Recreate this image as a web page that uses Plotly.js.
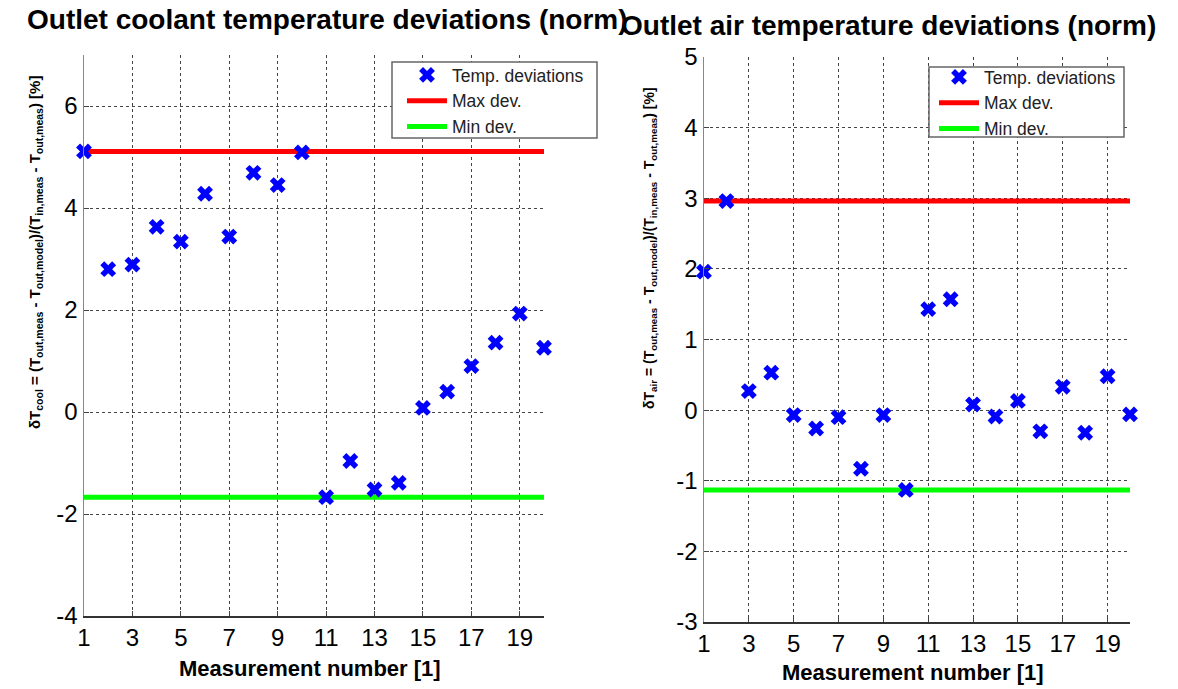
<!DOCTYPE html>
<html>
<head>
<meta charset="utf-8">
<script src="https://cdn.plot.ly/plotly-3.0.1.min.js"></script>
<style>html,body{margin:0;padding:0;background:#fff;}#chart{width:1178px;height:689px;}</style>
</head>
<body>
<div id="chart"></div>
<script>
// Measurement numbers
const measurement = [1,2,3,4,5,6,7,8,9,10,11,12,13,14,15,16,17,18,19,20];
// Outlet coolant temperature deviations [%]
const coolantDev = [5.11,2.80,2.89,3.63,3.34,4.28,3.44,4.69,4.45,5.09,-1.67,-0.96,-1.52,-1.39,0.08,0.40,0.90,1.36,1.93,1.26];
// Outlet air temperature deviations [%]
const airDev = [1.96,2.96,0.27,0.53,-0.07,-0.26,-0.10,-0.83,-0.07,-1.13,1.43,1.57,0.08,-0.09,0.13,-0.30,0.33,-0.32,0.48,-0.06];
const xTickVals = [1,3,5,7,9,11,13,15,17,19];
const coolYTicks = [-4,-2,0,2,4,6];
const airYTicks = [-3,-2,-1,0,1,2,3,4,5];
const legendNames = ["Temp. deviations","Max dev.","Min dev."];

const FONT = "Arial, 'Liberation Sans', sans-serif";
const xEnds = [measurement[0], measurement[measurement.length-1]];

function traces(vals, xa, ya, leg) {
  const mx = Math.max(...vals), mn = Math.min(...vals);
  return [
    {x: measurement, y: vals, xaxis: xa, yaxis: ya, mode: 'markers', name: legendNames[0], legend: leg,
     marker: {symbol: 'x', color: '#0000ff', size: 14, line: {width: 0}}, cliponaxis: false},
    {x: xEnds, y: [mx, mx], xaxis: xa, yaxis: ya, mode: 'lines', name: legendNames[1], legend: leg,
     line: {color: '#ff0000', width: 5}, cliponaxis: false},
    {x: xEnds, y: [mn, mn], xaxis: xa, yaxis: ya, mode: 'lines', name: legendNames[2], legend: leg,
     line: {color: '#00ff00', width: 5}, cliponaxis: false}
  ];
}

const data = [...traces(coolantDev, 'x', 'y', 'legend'), ...traces(airDev, 'x2', 'y2', 'legend2')];
// markers drawn on top of the lines
const ordered = [data[1], data[2], data[0], data[4], data[5], data[3]];
ordered.forEach(t => { t.legendrank = t.mode === 'markers' ? 1 : (t.name === legendNames[1] ? 2 : 3); });

const W = 1178, H = 689;
const px = v => v / W, py = v => (H - v) / H;

const gridCommon = {
  showgrid: true, gridcolor: '#444', griddash: '3px,3px', gridwidth: 1,
  zeroline: false, showline: true, linewidth: 1.5,
  ticks: 'inside', ticklen: 5, tickcolor: '#444',
  tickfont: {family: FONT, size: 24, color: '#000'}, mirror: false
};

const ann = (text, x, y, size, extra) => Object.assign({
  text: text, xref: 'paper', yref: 'paper', x: px(x), y: py(y), xanchor: 'center', yanchor: 'middle',
  showarrow: false, font: {family: FONT, size: size, color: '#000'}
}, extra || {});

const legendStyle = {xanchor: 'left', yanchor: 'top', bgcolor: 'rgba(0,0,0,0)',
  borderwidth: 0, font: {family: FONT, size: 17.5, color: '#222'},
  tracegroupgap: 0, itemwidth: 40};

const box = (x0, y0, x1, y1) => ({type: 'rect', xref: 'paper', yref: 'paper', layer: 'above',
  x0: px(x0), x1: px(x1), y0: py(y1), y1: py(y0), fillcolor: '#fff', line: {color: '#666', width: 1.5}});

const layout = {
  width: W, height: H,
  margin: {l: 0, r: 0, t: 0, b: 0},
  paper_bgcolor: '#fff', plot_bgcolor: '#fff',
  showlegend: true,
  xaxis: Object.assign({}, gridCommon, {domain: [px(84), px(544)], range: [1, 20], tickvals: xTickVals,
    ticktext: xTickVals.map(String), anchor: 'y', linecolor: '#333'}),
  yaxis: Object.assign({}, gridCommon, {domain: [py(616), py(55)], range: [-4, 7], tickvals: coolYTicks,
    ticktext: coolYTicks.map(String), anchor: 'x', linecolor: '#888'}),
  xaxis2: Object.assign({}, gridCommon, {domain: [px(704), px(1130)], range: [1, 20], tickvals: xTickVals,
    ticktext: xTickVals.map(String), anchor: 'y2', linecolor: '#333'}),
  yaxis2: Object.assign({}, gridCommon, {domain: [py(622), py(57)], range: [-3, 5], tickvals: airYTicks,
    ticktext: airYTicks.map(String), anchor: 'x2', linecolor: '#888'}),
  legend: Object.assign({x: px(402), y: py(57)}, legendStyle),
  legend2: Object.assign({x: px(934), y: py(59)}, legendStyle),
  shapes: [box(392, 62, 597, 138), box(929, 67, 1124, 137)],
  annotations: [
    ann('<b>Outlet coolant temperature deviations (norm)</b>', 327, 20, 28),
    ann('<b>Outlet air temperature deviations (norm)</b>', 888, 25, 28),
    ann('<b>Measurement number [1]</b>', 310, 668, 22),
    ann('<b>Measurement number [1]</b>', 913, 672, 22),
    ann('<b>δT<sub>cool</sub> = (T<sub>out,meas</sub> - T<sub>out,model</sub>)/(T<sub>in,meas</sub> - T<sub>out,meas</sub>) [%]</b>',
        35, 253, 15, {textangle: -90}),
    ann('<b>δT<sub>air</sub> = (T<sub>out,meas</sub> - T<sub>out,model</sub>)/(T<sub>in,meas</sub> - T<sub>out,meas</sub>) [%]</b>',
        650, 248, 14, {textangle: -90})
  ]
};

Plotly.newPlot('chart', ordered, layout, {displayModeBar: false, staticPlot: true});
</script>
</body>
</html>
